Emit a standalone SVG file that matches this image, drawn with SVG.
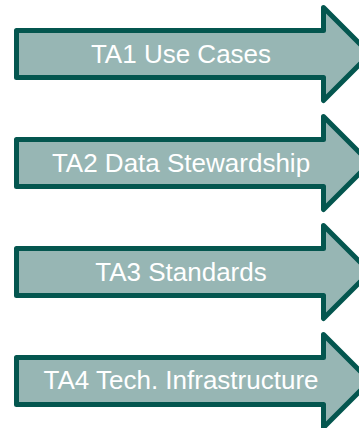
<svg xmlns="http://www.w3.org/2000/svg" width="359" height="428" viewBox="0 0 359 428">
<defs>
<style>
.arrow{fill:#97b6b4;stroke:#04564f;stroke-width:5;stroke-linejoin:round}
.lbl{font-family:"Liberation Sans",Arial,sans-serif;font-size:26px;fill:#ffffff;text-anchor:middle}
</style>
<path id="arrowShape" d="M16.5,-23.5 L323.5,-23.5 L323.5,-46.5 L370,0 L323.5,46.5 L323.5,23.5 L16.5,23.5 Z"/>
</defs>
<rect width="359" height="428" fill="#ffffff"/>
<g id="connectors"></g>
<g id="ta1" transform="translate(0,54)">
<use href="#arrowShape" class="arrow"/>
<text class="lbl" x="181" y="9">TA1 Use Cases</text>
</g>
<g id="ta2" transform="translate(0,163)">
<use href="#arrowShape" class="arrow"/>
<text class="lbl" x="181" y="9">TA2 Data Stewardship</text>
</g>
<g id="ta3" transform="translate(0,272)">
<use href="#arrowShape" class="arrow"/>
<text class="lbl" x="181" y="9">TA3 Standards</text>
</g>
<g id="ta4" transform="translate(0,381)">
<use href="#arrowShape" class="arrow"/>
<text class="lbl" x="181" y="8">TA4 Tech. Infrastructure</text>
</g>
</svg>
